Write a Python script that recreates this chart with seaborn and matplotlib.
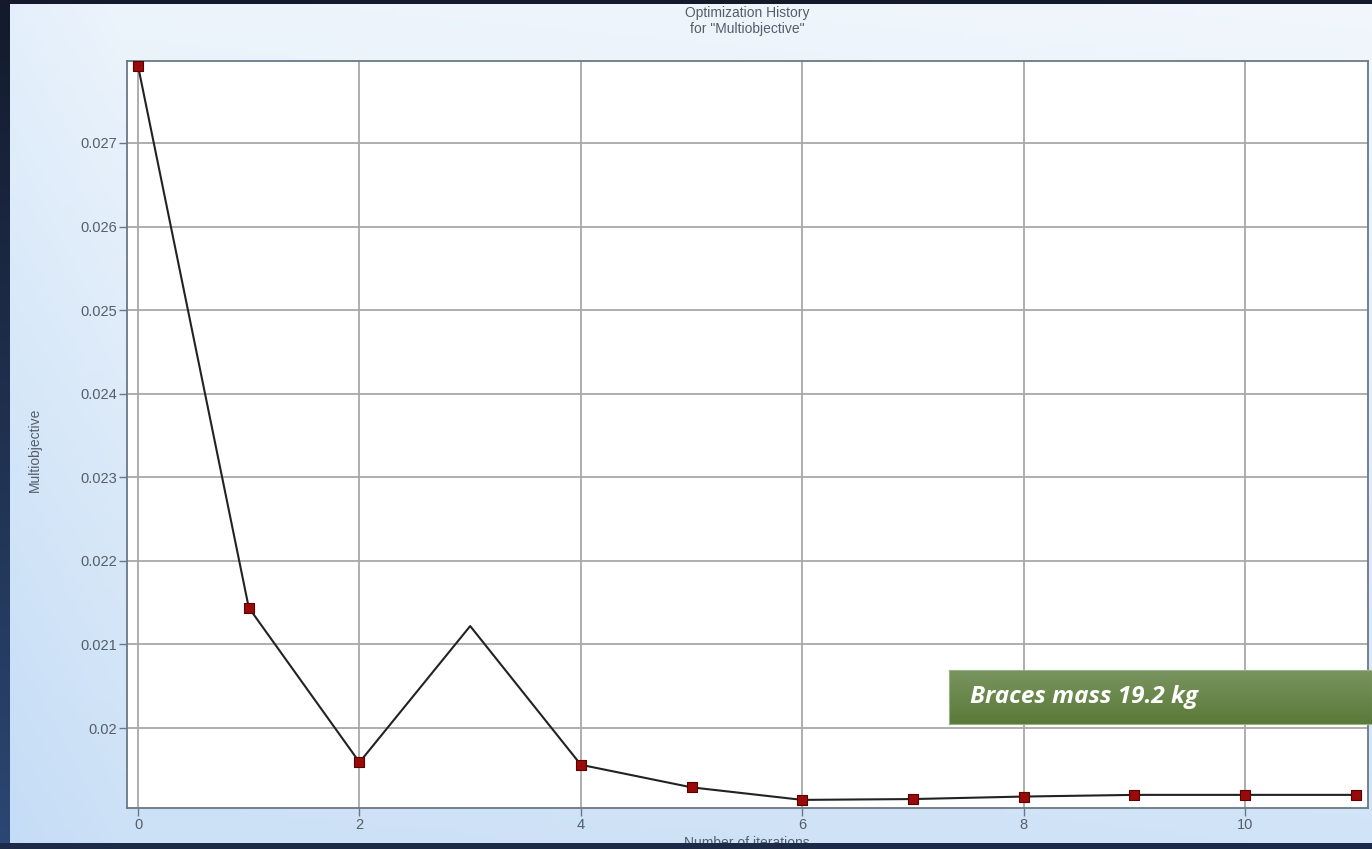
import numpy as np
import pandas as pd
import matplotlib
matplotlib.use("Agg")
import matplotlib.pyplot as plt
import seaborn as sns
from matplotlib.patches import Rectangle
from matplotlib.ticker import FuncFormatter, FixedLocator
from matplotlib.colors import LinearSegmentedColormap

# ---- data ----
iterations = [0, 1, 2, 3, 4, 5, 6, 7, 8, 9, 10, 11]
multiobjective = [0.02792, 0.02144, 0.01959, 0.02122, 0.01956, 0.01929,
                  0.01914, 0.01915, 0.01918, 0.01920, 0.01920, 0.01920]
has_marker = [True, True, True, False, True, True, True, True, True, True, True, True]
x_ticks = [0, 2, 4, 6, 8, 10]
y_ticks = [0.020, 0.021, 0.022, 0.023, 0.024, 0.025, 0.026, 0.027]
title_text = 'Optimization History\nfor "Multiobjective"'
xlabel_text = "Number of iterations"
ylabel_text = "Multiobjective"
note_text = "Braces mass 19.2 kg"

df = pd.DataFrame({"it": iterations, "val": multiobjective, "mk": has_marker})

sns.set_theme(style="white")
plt.rcParams["font.family"] = ["Liberation Sans", "DejaVu Sans"]

W, H = 1372, 849
fig = plt.figure(figsize=(W / 100, H / 100), dpi=100)
fig.patch.set_facecolor("#141a2c")

# left-edge navy gradient strip
strip = fig.add_axes([0, 0, 10 / W, 1], zorder=-5)
grad = np.linspace(0, 1, 256).reshape(-1, 1)
navy = LinearSegmentedColormap.from_list("nv", ["#2b4773", "#141a2c"])
strip.imshow(grad, aspect="auto", cmap=navy, origin="lower", extent=[0, 1, 0, 1])
strip.axis("off")

# light-blue chart background panel
bg = fig.add_axes([10 / W, 6 / H, (W - 10) / W, (843 - 4) / H], zorder=-2)
ny, nx = 200, 300
yy = np.linspace(0, 1, ny).reshape(-1, 1)
xx = np.linspace(0, 1, nx).reshape(1, -1)
top = np.array([0.925, 0.955, 0.985])
bot = np.array([0.80, 0.88, 0.965])
img = bot + (top - bot) * yy[..., None]
img = img - (0.03 * np.clip(1 - xx / 0.08, 0, 1))[..., None] * np.array([1, 0.5, 0])
img = img + (0.02 * xx)[..., None] * np.array([1, 0.6, 0.2])
img = np.clip(img * np.ones((ny, nx, 1)), 0, 1)
bg.imshow(img, aspect="auto", origin="lower", extent=[0, 1, 0, 1])
bg.axis("off")

# main axes
ax = fig.add_axes([127 / W, (H - 808) / H, (1368 - 127) / W, (808 - 61) / H])
ax.set_facecolor("white")

sns.lineplot(data=df, x="it", y="val", ax=ax, color="#222222", linewidth=1.5,
             zorder=3, legend=False)
sns.scatterplot(data=df[df["mk"]], x="it", y="val", ax=ax, marker="s", s=60,
                color="#990a0a", edgecolor="#5c0000", linewidth=0.8, zorder=4,
                legend=False)

ax.set_xlim(-0.1, 11.11)
ax.set_ylim(0.019043, 0.027981)
ax.xaxis.set_major_locator(FixedLocator(x_ticks))
ax.yaxis.set_major_locator(FixedLocator(y_ticks))
ax.yaxis.set_major_formatter(FuncFormatter(lambda v, p: f"{v:g}"))
ax.grid(True, color="#a8a8a8", linewidth=1.3)
ax.set_axisbelow(True)
for s in ax.spines.values():
    s.set_color("#6a7886")
    s.set_linewidth(1.3)
ax.tick_params(axis="both", which="major", length=6, width=1, color="#6a7886",
               labelsize=10.5, labelcolor="#555e69", direction="out", pad=1,
               left=True, bottom=True)
ax.set_xlabel("")
ax.set_ylabel("")

fig.text(747 / W, 1 - 21 / H, title_text, ha="center", va="center",
         fontsize=10, color="#555e69", linespacing=1.15)
fig.text(35 / W, 1 - 450 / H, ylabel_text, ha="center", va="center",
         rotation=90, fontsize=10, color="#555e69")
fig.text(747 / W, 1 - 843 / H, xlabel_text, ha="center", va="center",
         fontsize=10, color="#555e69")

# navy frame bands
fig.add_artist(Rectangle((0, 0), 1, 6 / H, transform=fig.transFigure,
                         facecolor="#1c2a48", edgecolor="none", zorder=20))
fig.add_artist(Rectangle((0, 1 - 4 / H), 1, 4 / H, transform=fig.transFigure,
                         facecolor="#141a2c", edgecolor="none", zorder=20))

# green annotation box with vertical gradient
gax = fig.add_axes([949 / W, 1 - 724 / H, (W - 949) / W, 54 / H], zorder=15)
green = LinearSegmentedColormap.from_list("gr", ["#5a7a38", "#7a9560"])
gax.imshow(np.linspace(0, 1, 64).reshape(-1, 1), aspect="auto", cmap=green,
           origin="lower", extent=[0, 1, 0, 1])
gax.set_xticks([])
gax.set_yticks([])
for s in gax.spines.values():
    s.set_color("#9cb085")
    s.set_linewidth(0.8)
gax.text(21 / (W - 949), 0.5, note_text, transform=gax.transAxes, ha="left",
         va="center", fontsize=17.5, color="white", fontweight="bold",
         style="italic", family=["Open Sans", "DejaVu Sans"])

fig.savefig("out.png", dpi=100, facecolor=fig.get_facecolor())
